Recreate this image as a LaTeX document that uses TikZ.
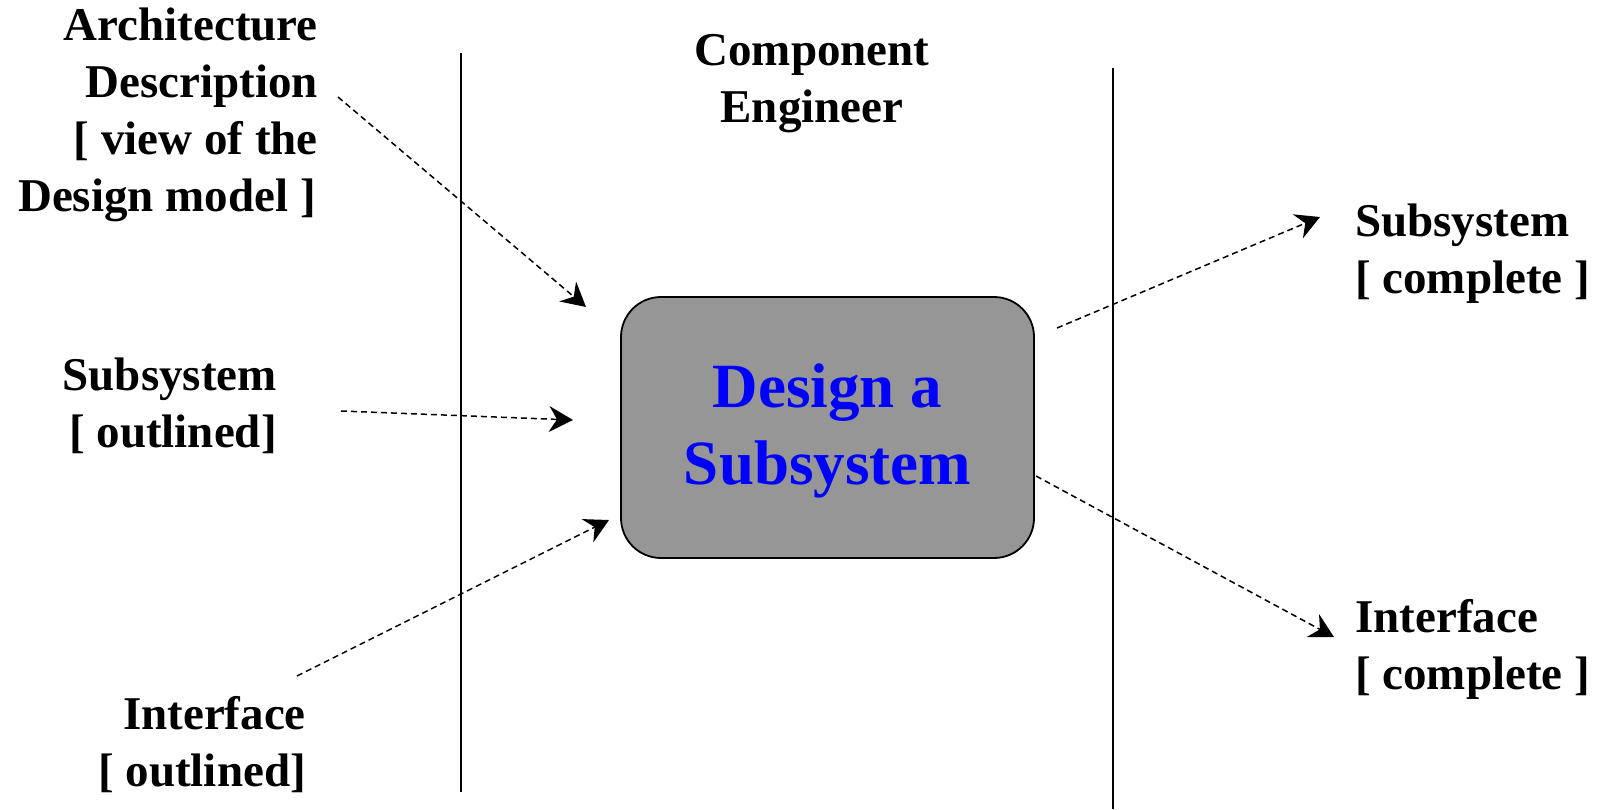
\documentclass[tikz,border=0pt]{standalone}
\usepackage{fontspec}
\setmainfont{Liberation Serif}
\usetikzlibrary{arrows.meta,positioning}
\definecolor{taskgray}{RGB}{150,150,150}
\definecolor{taskblue}{RGB}{0,0,255}
\tikzset{
  artifact/.style={font=\bfseries\fontsize{47}{57}\selectfont, inner sep=0pt, text=black},
  taskbox/.style={draw=black, fill=taskgray, line width=1.8pt, rounded corners=40pt,
    minimum width=413pt, minimum height=261pt},
  tasktext/.style={align=center, text=taskblue, inner sep=0pt,
    font=\bfseries\fontsize{63}{77}\selectfont},
  lane/.style={line width=1.8pt, draw=black},
  flow/.style={-{Stealth[length=24pt,width=26pt,inset=8pt]}, line width=1.5pt,
    dash pattern=on 6pt off 4pt}
}
\begin{document}
\begin{tikzpicture}[x=1pt,y=-1pt]
  \useasboundingbox (0,0) rectangle (1605,809);

  % swim lanes
  \draw[lane] (461,53) -- (461,792);
  \draw[lane] (1113,68) -- (1113,809);
  \node[artifact, align=center] (engineer) at (812,84) {Component\\Engineer};

  % activity
  \node[taskbox] (design) at (827.5,427.5) {};
  \node[tasktext, yshift=-3pt] (designtext) at (design.center) {Design a\\Subsystem};

  % inputs
  \node[artifact, align=right, anchor=east] (archdesc) at (318,115) {Architecture\\Description\\{[} view of the\hspace*{11pt}\\Design model ]\hspace*{2pt}};
  \node[artifact, align=right, anchor=east] (subout) at (277,406) {Subsystem\\{[} outlined]};
  \node[artifact, align=right, anchor=east] (ifout) at (306,745) {Interface\\{[} outlined]};

  % outputs
  \node[artifact, align=left, anchor=west] (subcomp) at (1355,254) {Subsystem\\{[} complete ]};
  \node[artifact, align=left, anchor=west] (ifcomp) at (1355,649) {Interface\\{[} complete ]};

  % connector ends
  \coordinate (archdesc-out) at (338,97);
  \coordinate (subout-out) at (341,411);
  \coordinate (ifout-out) at (297,676);
  \coordinate (design-in1) at (586,307);
  \coordinate (design-in2) at (573,420);
  \coordinate (design-in3) at (609,520);
  \coordinate (design-out1) at (1057,328);
  \coordinate (design-out2) at (1036,476);
  \coordinate (subcomp-in) at (1320,217);
  \coordinate (ifcomp-in) at (1334,637);

  \draw[flow] (archdesc-out) -- (design-in1);
  \draw[flow] (subout-out) -- (design-in2);
  \draw[flow] (ifout-out) -- (design-in3);
  \draw[flow] (design-out1) -- (subcomp-in);
  \draw[flow] (design-out2) -- (ifcomp-in);
\end{tikzpicture}
\end{document}
